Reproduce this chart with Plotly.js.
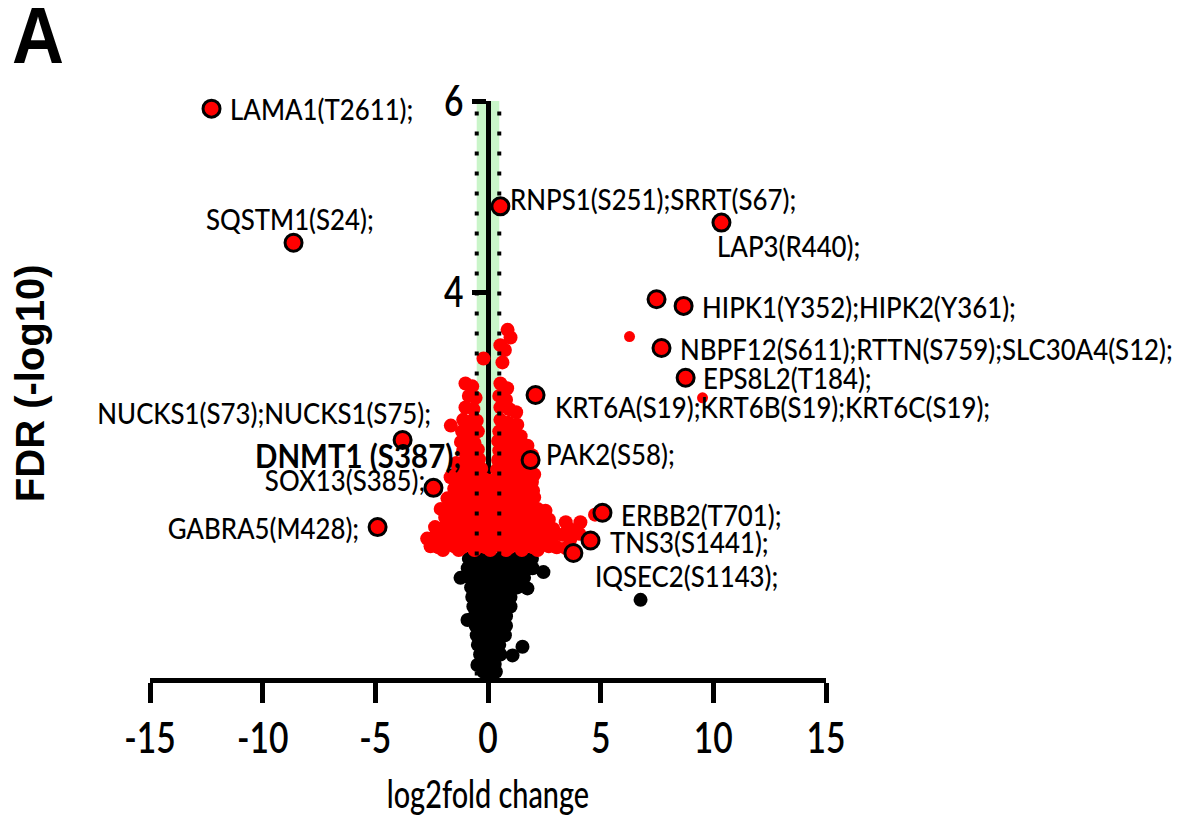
<!DOCTYPE html>
<html>
<head>
<meta charset="utf-8">
<script src="https://cdn.plot.ly/plotly-3.0.1.min.js"></script>
<style>html,body{margin:0;padding:0;background:#fff;}#chart{width:1190px;height:834px;}</style>
</head>
<body>
<div id="chart"></div>
<script>
// ---- data ----
const xTickVals = [-15, -10, -5, 0, 5, 10, 15];
const xTickText = ['-15', '-10', '-5', '0', '5', '10', '15'];
const yTickVals = [2, 4, 6];
const yTickText = ['2', '4', '6'];
const foldThresholds = [-0.5, 0.5];

// non-significant phosphosites (black)
const blackX = [
  -0.85,-0.5,-0.15,0.2,0.55,0.9,1.25,1.6,1.95,
  -0.9,-0.55,-0.2,0.15,0.5,0.85,1.2,1.55,1.85,
  -0.8,-0.45,-0.1,0.25,0.6,0.95,1.3,1.6,
  -0.75,-0.4,-0.05,0.3,0.65,1.0,1.3,
  -0.7,-0.35,0.0,0.35,0.7,1.0,
  -0.65,-0.3,0.05,0.4,0.75,1.0,
  -0.6,-0.25,0.1,0.45,0.8,
  -0.55,-0.2,0.15,0.5,0.8,
  -0.5,-0.15,0.2,0.5,0.75,
  -0.45,-0.1,0.2,0.5,
  -0.35,-0.05,0.25,0.55,
  -0.3,0.0,0.3,
  -0.2,0.1,0.35,
  0.05,0.3,
  -1.22,2.46,1.98,1.75,1.53,1.09,-0.91,-0.47,
  6.77
];
const blackY = [
  1.22,1.22,1.22,1.22,1.22,1.22,1.22,1.22,1.22,
  1.12,1.12,1.12,1.12,1.12,1.12,1.12,1.12,1.12,
  1.02,1.02,1.02,1.02,1.02,1.02,1.02,1.02,
  0.92,0.92,0.92,0.92,0.92,0.92,0.92,
  0.82,0.82,0.82,0.82,0.82,0.82,
  0.72,0.72,0.72,0.72,0.72,0.72,
  0.62,0.62,0.62,0.62,0.62,
  0.52,0.52,0.52,0.52,0.52,
  0.42,0.42,0.42,0.42,0.42,
  0.32,0.32,0.32,0.32,
  0.22,0.22,0.22,0.22,
  0.12,0.12,0.12,
  0.04,0.04,0.04,
  -0.06,-0.04,
  1.02,1.08,1.12,0.91,0.30,0.21,0.58,0.11,
  0.79
];

// significant phosphosites (red)
const redX = [
  0.87,1.0,0.55,0.75,-0.2,0.64,
  -1.0,-0.7,0.55,0.85,
  -0.85,-0.55,0.5,0.8,
  -1.0,-0.65,0.55,0.95,1.25,
  -1.65,-1.1,-0.8,-0.5,0.55,0.9,1.3,
  -1.15,-0.85,-0.45,0.5,0.8,1.1,1.45,
  -1.2,-0.9,-0.6,0.45,0.75,1.05,1.4,1.75,
  -1.1,-0.75,-0.45,0.5,0.85,1.2,1.6,1.95,
  -1.4,-1.0,-0.7,-0.4,0.45,0.8,1.15,1.5,
  -1.35,-0.95,-0.6,-0.3,0.4,0.7,1.05,1.4,1.8,2.05,
  -1.66,-1.2,-0.85,-0.5,-0.15,0.2,0.55,0.9,1.25,1.6,1.95,
  -1.5,-1.1,-0.75,-0.4,-0.05,0.3,0.65,1.0,1.35,1.7,2.0,
  -1.8,-1.45,-1.05,-0.7,-0.35,0.0,0.35,0.7,1.05,1.4,1.75,2.05,
  -2.1,-1.7,-1.3,-0.95,-0.6,-0.25,0.1,0.45,0.8,1.15,1.5,1.85,2.2,2.55,
  -1.9,-1.5,-1.15,-0.8,-0.45,-0.1,0.25,0.6,0.95,1.3,1.65,2.0,2.4,2.7,
  -2.35,-2.0,-1.65,-1.3,-0.95,-0.6,-0.25,0.1,0.45,0.8,1.15,1.5,1.85,2.2,2.55,2.9,3.45,3.75,4.1,4.75,
  -2.7,-2.35,-2.0,-1.65,-1.3,-0.95,-0.6,-0.25,0.1,0.45,0.8,1.15,1.5,1.85,2.2,2.55,2.9,3.3,3.65,4.05,
  -2.55,-2.2,-1.85,-1.5,-1.15,-0.8,-0.45,-0.1,0.25,0.6,0.95,1.3,1.65,2.0,2.35,2.7,3.05,3.45,
  -2.0,-1.3,-0.6,0.1,0.8,1.5,2.2
];
const redY = [
  3.61,3.53,3.45,3.40,3.31,3.27,
  3.05,3.02,3.05,3.00,
  2.92,2.90,2.92,2.88,
  2.80,2.78,2.80,2.78,2.75,
  2.61,2.67,2.65,2.66,2.67,2.64,2.62,
  2.55,2.53,2.55,2.55,2.53,2.56,2.50,
  2.44,2.45,2.43,2.45,2.44,2.46,2.42,2.40,
  2.35,2.34,2.36,2.35,2.33,2.36,2.32,2.30,
  2.22,2.25,2.24,2.26,2.25,2.24,2.26,2.22,
  2.12,2.15,2.14,2.16,2.15,2.13,2.16,2.14,2.12,2.10,
  2.07,2.05,2.04,2.06,2.05,2.04,2.06,2.05,2.04,2.06,2.02,
  1.95,1.94,1.96,1.95,1.94,1.96,1.95,1.94,1.96,1.95,1.93,
  1.85,1.84,1.86,1.85,1.84,1.86,1.85,1.84,1.86,1.85,1.84,1.86,
  1.74,1.76,1.75,1.74,1.76,1.75,1.74,1.76,1.75,1.74,1.76,1.75,1.74,1.72,
  1.65,1.64,1.66,1.65,1.64,1.66,1.65,1.64,1.66,1.65,1.64,1.66,1.65,1.63,
  1.55,1.54,1.56,1.55,1.54,1.56,1.55,1.54,1.56,1.55,1.54,1.56,1.55,1.54,1.56,1.53,1.60,1.52,1.60,1.68,
  1.43,1.45,1.44,1.46,1.45,1.44,1.46,1.45,1.44,1.46,1.45,1.44,1.46,1.45,1.44,1.46,1.45,1.47,1.42,1.48,
  1.35,1.34,1.36,1.35,1.34,1.36,1.35,1.34,1.36,1.35,1.34,1.36,1.35,1.34,1.36,1.35,1.34,1.33,
  1.31,1.31,1.31,1.31,1.31,1.31,1.31
];

// isolated significant sites without a label
const smallRedX = [6.28, 9.52];
const smallRedY = [3.54, 2.90];

// highlighted (outlined) sites
const ringedX = [-12.27, -8.63, 0.55, 10.36, 7.48, 8.68, 7.70, 8.77, 2.11, 1.89, 5.08, 4.55, 3.79, -3.79, -2.42, -4.90];
const ringedY = [5.92, 4.52, 4.90, 4.73, 3.93, 3.86, 3.42, 3.11, 2.93, 2.25, 1.70, 1.41, 1.28, 2.46, 1.96, 1.55];

// labels and the site each one refers to
const geneLabels = [
  'LAMA1(T2611);', 'SQSTM1(S24);', 'RNPS1(S251);SRRT(S67);', 'LAP3(R440);',
  'HIPK1(Y352);HIPK2(Y361);', 'NBPF12(S611);RTTN(S759);SLC30A4(S12);', 'EPS8L2(T184);',
  'KRT6A(S19);KRT6B(S19);KRT6C(S19);', 'PAK2(S58);', 'ERBB2(T701);', 'TNS3(S1441);',
  'IQSEC2(S1143);', 'NUCKS1(S73);NUCKS1(S75);', 'SOX13(S385);', 'GABRA5(M428);'
];
const geneLabelX = [-12.27, -8.63, 0.55, 10.36, 8.68, 7.70, 8.77, 2.11, 1.89, 5.08, 4.55, 6.77, -3.79, -2.42, -4.90];
const geneLabelY = [5.92, 4.52, 4.90, 4.73, 3.86, 3.42, 3.11, 2.93, 2.25, 1.70, 1.41, 0.79, 2.46, 1.96, 1.55];
const boldLabel = 'DNMT1 (S387);';

// ---- styling (positions of label text relative to its site, in px) ----
const labelStyle = [
  {xa:'left', dx:16, dy:0}, {xa:'left', dx:-90, dy:24}, {xa:'left', dx:8, dy:8}, {xa:'left', dx:-6, dy:-23},
  {xa:'left', dx:16, dy:-1}, {xa:'left', dx:16, dy:0}, {xa:'left', dx:15, dy:0},
  {xa:'left', dx:17, dy:-12}, {xa:'left', dx:13, dy:7}, {xa:'left', dx:17, dy:-2}, {xa:'left', dx:17, dy:-1},
  {xa:'left', dx:-48, dy:24}, {xa:'right', dx:30, dy:27}, {xa:'right', dx:-6, dy:8}, {xa:'right', dx:-17, dy:0}
];
const LATO = 'Lato, "Open Sans", sans-serif';
const ARIAL = '"Liberation Sans", Arial, sans-serif';
const labelFont = {family: LATO, size: 29, weight: 500, color: '#000'};
const LABEL_SQUEEZE = 0.89, TICK_SQUEEZE = 0.8, TITLE_SQUEEZE = 0.76, A_SQUEEZE = 0.9;

const traces = [
  {type:'scatter', mode:'markers', x:blackX, y:blackY, cliponaxis:false, hoverinfo:'skip',
   marker:{color:'#000', size:14, line:{width:0}}},
  {type:'scatter', mode:'markers', x:redX, y:redY, cliponaxis:false, hoverinfo:'skip',
   marker:{color:'#ff0000', size:14, line:{width:0}}},
  {type:'scatter', mode:'markers', x:smallRedX, y:smallRedY, cliponaxis:false, hoverinfo:'skip',
   marker:{color:'#ff0000', size:11, line:{width:0}}}
];
foldThresholds.forEach(t => traces.push({
  type:'scatter', mode:'lines', x:[t, t], y:[0, 6], cliponaxis:false, hoverinfo:'skip',
  line:{color:'#000', width:4, dash:'4px,16px'}
}));
traces.push({type:'scatter', mode:'markers', x:ringedX, y:ringedY, cliponaxis:false, hoverinfo:'skip',
  marker:{color:'#ff0000', size:17, line:{color:'#000', width:3}}});

const annotations = geneLabels.map((t, i) => ({
  x: geneLabelX[i], y: geneLabelY[i], xref:'x', yref:'y', text: t, showarrow:false,
  xanchor: labelStyle[i].xa, yanchor:'middle', xshift: labelStyle[i].dx, yshift: labelStyle[i].dy,
  font: labelFont
}));
const squeezeMode = labelStyle.map(s => [s.xa, LABEL_SQUEEZE]);
annotations.push({x:-10.41, y:2.30, xref:'x', yref:'y', text:'<b>' + boldLabel + '</b>', showarrow:false,
  xanchor:'left', yanchor:'middle', font:{family: LATO, size: 32, color:'#000'}});
squeezeMode.push(['left', 0.92]);
annotations.push({x:-0.1775, y:0.511, xref:'paper', yref:'paper', text:'<b>FDR (-log10)</b>', textangle:-90,
  showarrow:false, xanchor:'center', yanchor:'middle',
  font:{family: ARIAL, size:40, color:'#000'}});
squeezeMode.push(null);
annotations.push({x:-0.1657, y:1.194, xref:'paper', yref:'paper', text:'<b>A</b>', showarrow:false,
  xanchor:'center', yanchor:'top',
  font:{family: ARIAL, size:80, color:'#000'}});
squeezeMode.push(['center', A_SQUEEZE]);

const shapes = [
  {type:'rect', xref:'x', yref:'y', x0:foldThresholds[0], x1:foldThresholds[1], y0:0, y1:6,
   fillcolor:'#c9f5c9', line:{width:0}, layer:'below'}
];
foldThresholds.forEach(t => shapes.push({type:'line', xref:'x', yref:'y', x0:t, x1:t,
  ysizemode:'pixel', yanchor:-0.026, y0:-2, y1:-22, line:{color:'#000', width:5}, layer:'above'}));

const layout = {
  width:1190, height:834,
  margin:{l:150, r:364, t:101, b:156, pad:0},
  paper_bgcolor:'#fff', plot_bgcolor:'rgba(0,0,0,0)',
  showlegend:false,
  xaxis:{range:[-15,15], tickvals:xTickVals, ticktext:xTickText, showgrid:false, zeroline:false,
    showline:true, linecolor:'#000', linewidth:5, ticks:'outside', ticklen:20, tickwidth:5, tickcolor:'#000',
    tickfont:{family:LATO, size:42, weight:600, color:'#000'},
    title:{text:'log2fold change', font:{family:LATO, size:38, weight:500, color:'#000'}, standoff:22},
    fixedrange:true},
  yaxis:{range:[-0.026,6], tickvals:yTickVals, ticktext:yTickText, showgrid:false, zeroline:false,
    anchor:'free', position:0.5, layer:'below traces',
    showline:true, linecolor:'#000', linewidth:5, ticks:'outside', ticklen:14, tickwidth:5, tickcolor:'#000',
    tickfont:{family:LATO, size:42, weight:600, color:'#000'}, fixedrange:true},
  annotations: annotations,
  shapes: shapes
};

// horizontally condense a text element about its left / right edge or centre
function squeezeText(el, s, mode) {
  const r = el.getBoundingClientRect();
  if (!r.width) return;
  const ax = mode === 'left' ? r.left : mode === 'right' ? r.right : (r.left + r.right) / 2;
  const parent = el.parentNode;
  const m = parent.getScreenCTM();
  const lx = (ax - m.e) / m.a;
  const g = document.createElementNS('http://www.w3.org/2000/svg', 'g');
  g.setAttribute('transform', 'translate(' + lx + ',0) scale(' + s + ',1) translate(' + (-lx) + ',0)');
  parent.insertBefore(g, el);
  g.appendChild(el);
}

const gd = document.getElementById('chart');
Plotly.newPlot(gd, traces, layout, {staticPlot:true, displayModeBar:false}).then(() => {
  try {
    gd.querySelectorAll('g.xtick text').forEach(t => squeezeText(t, TICK_SQUEEZE, 'center'));
    gd.querySelectorAll('g.ytick text').forEach(t => squeezeText(t, TICK_SQUEEZE, 'right'));
    gd.querySelectorAll('text.xtitle').forEach(t => squeezeText(t, TITLE_SQUEEZE, 'center'));
    gd.querySelectorAll('g.annotation').forEach(a => {
      const idx = +a.getAttribute('data-index');
      const sm = squeezeMode[idx];
      const t = a.querySelector('text.annotation-text');
      if (sm && t) squeezeText(t, sm[1], sm[0]);
    });
  } catch (e) { /* keep unsqueezed text */ }
});
</script>
</body>
</html>
